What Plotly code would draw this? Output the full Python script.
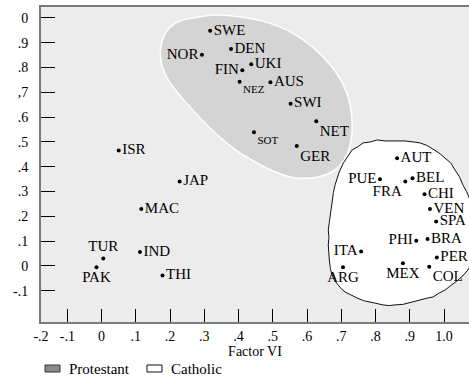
import plotly.graph_objects as go

# ---- data -------------------------------------------------------------
countries = ["SWE", "DEN", "NOR", "UKI", "FIN", "NEZ", "AUS", "SWI", "NET", "SOT", "GER",
             "ISR", "JAP", "MAC", "IND", "TUR", "PAK", "THI",
             "AUT", "PUE", "FRA", "BEL", "CHI", "VEN", "SPA", "BRA", "PHI", "ITA", "PER",
             "ARG", "MEX", "COL"]
factor_vi = [0.317, 0.378, 0.293, 0.437, 0.411, 0.403, 0.493, 0.552, 0.627, 0.445, 0.570,
             0.050, 0.228, 0.116, 0.112, 0.005, -0.015, 0.178,
             0.863, 0.813, 0.887, 0.908, 0.943, 0.959, 0.977, 0.952, 0.919, 0.758, 0.979,
             0.705, 0.880, 0.957]
factor_y = [0.948, 0.875, 0.851, 0.813, 0.789, 0.743, 0.741, 0.654, 0.583, 0.539, 0.484,
            0.465, 0.340, 0.230, 0.056, 0.030, -0.005, -0.039,
            0.434, 0.350, 0.340, 0.354, 0.289, 0.230, 0.179, 0.109, 0.102, 0.058, 0.034,
            -0.005, 0.011, -0.003]

protestant_x = [0.268, 0.332, 0.405, 0.478, 0.551, 0.615, 0.668, 0.706, 0.726, 0.732, 0.726,
                0.708, 0.682, 0.633, 0.566, 0.507, 0.449, 0.391, 0.332, 0.274, 0.222, 0.187,
                0.172, 0.178, 0.201, 0.230]
protestant_y = [1.000, 1.012, 1.004, 0.984, 0.944, 0.883, 0.810, 0.730, 0.649, 0.569, 0.488,
                0.427, 0.387, 0.359, 0.355, 0.379, 0.419, 0.468, 0.536, 0.617, 0.698, 0.770,
                0.839, 0.911, 0.964, 0.988]

catholic_x = [0.706, 0.732, 0.750, 0.764, 0.785, 0.805, 0.828, 0.848, 0.868, 0.886, 0.910, 0.930,
              0.950, 0.968, 0.985, 1.003, 1.020, 1.032, 1.045, 1.055, 1.066, 1.076, 1.085,
              1.093, 1.099, 1.096, 1.090, 1.070, 1.055, 1.038, 1.020, 1.003, 0.985, 0.968,
              0.950, 0.930, 0.915, 0.901, 0.880, 0.857, 0.840, 0.822, 0.803, 0.784, 0.765,
              0.746, 0.728, 0.711, 0.700, 0.691, 0.680, 0.673, 0.668, 0.665, 0.663, 0.662,
              0.664, 0.662, 0.665, 0.668, 0.670, 0.673, 0.677, 0.682, 0.688, 0.694]
catholic_y = [0.415, 0.468, 0.482, 0.496, 0.500, 0.508, 0.504, 0.504, 0.507, 0.504, 0.500, 0.496,
              0.486, 0.472, 0.456, 0.435, 0.415, 0.387, 0.360, 0.327, 0.300, 0.266, 0.230,
              0.185, 0.135, 0.085, 0.035, -0.016, -0.040, -0.060, -0.080, -0.097, -0.110,
              -0.125, -0.130, -0.137, -0.145, -0.149, -0.155, -0.157, -0.160, -0.157, -0.152,
              -0.145, -0.140, -0.129, -0.118, -0.105, -0.092, -0.077, -0.058, -0.036, -0.010,
              0.024, 0.055, 0.085, 0.115, 0.145, 0.175, 0.206, 0.236, 0.266, 0.296, 0.327,
              0.352, 0.379]

x_tick_vals = [-0.177, -0.1, 0.0, 0.1, 0.2, 0.3, 0.4, 0.5, 0.6, 0.7, 0.8, 0.9, 1.0]
x_tick_text = ["-.2", "-.1", "0", ".1", ".2", ".3", ".4", ".5", ".6", ".7", ".8", ".9", "1.0"]
y_tick_vals = [1.0, 0.9, 0.8, 0.7, 0.6, 0.5, 0.4, 0.3, 0.2, 0.1, 0.0, -0.1]
y_tick_text = ["0", ".9", ".8", ",7", ".6", ".5", ".4", ".3", ".2", ".1", "0", "-.1"]

legend_names = ["Protestant", "Catholic"]

# ---- styles -----------------------------------------------------------
label_pos = ["middle right", "middle right", "middle left", "middle right", "middle left",
             "bottom right", "middle right", "middle right", "bottom right", "bottom right",
             "bottom right",
             "middle right", "middle right", "middle right", "middle right", "top center",
             "bottom center", "middle right",
             "middle right", "middle left", "bottom left", "middle right", "middle right",
             "middle right", "middle right", "middle right", "middle left", "middle left",
             "middle right", "bottom center", "bottom center", "bottom right"]
label_size = [15 if c not in ("NEZ", "SOT") else 11 for c in countries]

SERIF = "Liberation Serif"
W, H = 469, 377
ML, MR, MT, MB = 41, 0, 7, 55
PW, PH = W - ML - MR, H - MT - MB

fig = go.Figure()

fig.add_trace(go.Scatter(
    x=protestant_x + protestant_x[:1], y=protestant_y + protestant_y[:1],
    mode="lines", fill="toself", fillcolor="#d4d4d4",
    line=dict(color="#ffffff", width=1.5, shape="spline", smoothing=0.8),
    hoverinfo="skip", showlegend=False))

fig.add_trace(go.Scatter(
    x=catholic_x + catholic_x[:1], y=catholic_y + catholic_y[:1],
    mode="lines", fill="toself", fillcolor="#ffffff",
    line=dict(color="#111111", width=1),
    hoverinfo="skip", showlegend=False))

fig.add_trace(go.Scatter(
    x=factor_vi, y=factor_y, mode="markers+text",
    text=countries, textposition=label_pos,
    textfont=dict(family=SERIF, size=label_size, color="#000000"),
    marker=dict(color="#000000", size=4),
    cliponaxis=False, showlegend=False))

# manual legend
def px_to_paper_x(px):
    return (px - ML) / PW

def px_to_paper_y(py):
    return (H - MB - py) / PH

shapes = [
    dict(type="rect", xref="paper", yref="paper",
         x0=px_to_paper_x(45), x1=px_to_paper_x(60),
         y0=px_to_paper_y(372), y1=px_to_paper_y(365),
         fillcolor="#8a8a8a", line=dict(color="#333333", width=1)),
    dict(type="rect", xref="paper", yref="paper",
         x0=px_to_paper_x(147), x1=px_to_paper_x(162),
         y0=px_to_paper_y(372), y1=px_to_paper_y(365),
         fillcolor="#ffffff", line=dict(color="#111111", width=1)),
]
annotations = [
    dict(text=legend_names[0], xref="paper", yref="paper",
         x=px_to_paper_x(67), y=px_to_paper_y(368.5), xanchor="left", yanchor="middle",
         showarrow=False, font=dict(family=SERIF, size=15, color="#000000")),
    dict(text=legend_names[1], xref="paper", yref="paper",
         x=px_to_paper_x(169), y=px_to_paper_y(368.5), xanchor="left", yanchor="middle",
         showarrow=False, font=dict(family=SERIF, size=15, color="#000000")),
]

fig.update_layout(
    width=W, height=H,
    margin=dict(l=ML, r=MR, t=MT, b=MB),
    paper_bgcolor="#ffffff", plot_bgcolor="#ececec",
    font=dict(family=SERIF, size=14, color="#000000"),
    shapes=shapes, annotations=annotations,
    xaxis=dict(range=[-0.177, 1.073], tickvals=x_tick_vals, ticktext=x_tick_text,
               ticks="inside", ticklen=13, tickcolor="#000000", tickwidth=1,
               showgrid=False, zeroline=False, showline=True, linecolor="#7a7a7a",
               linewidth=2, mirror=True,
               title=dict(text="Factor VI", font=dict(family=SERIF, size=14), standoff=2),
               tickfont=dict(family=SERIF, size=14)),
    yaxis=dict(range=[-0.226, 1.044], tickvals=y_tick_vals, ticktext=y_tick_text,
               ticks="inside", ticklen=14, tickcolor="#000000", tickwidth=1,
               showgrid=False, zeroline=False, showline=True, linecolor="#7a7a7a",
               linewidth=2, ticklabelstandoff=8,
               tickfont=dict(family=SERIF, size=14)),
)

fig.write_html("out.html",
               config={"displayModeBar": False},
               post_script="document.body.style.margin='0';document.body.style.overflow='hidden';")
